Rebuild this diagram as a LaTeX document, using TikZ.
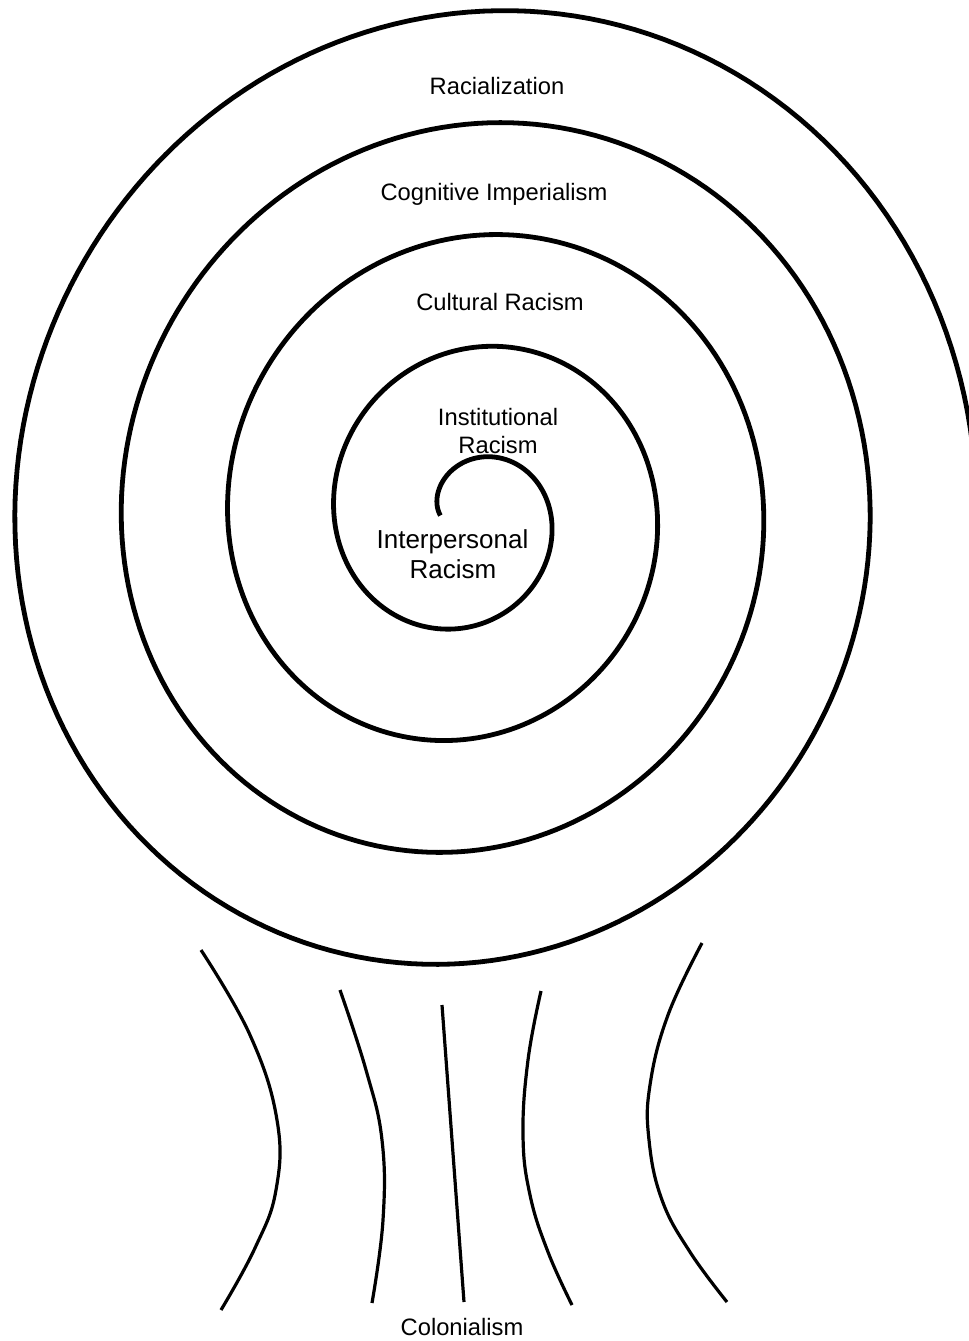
\documentclass[tikz,border=0pt]{standalone}
\usepackage{fontspec}
\setmainfont{Liberation Sans}
\begin{document}
\begin{tikzpicture}[x=0.75pt, y=-0.75pt,
  spiralline/.style={line width=3.6pt, line join=round, black},
  strand/.style={line width=2.4pt, black},
  lbl/.style={anchor=base, inner sep=0pt, font=\fontsize{17.8pt}{21pt}\selectfont},
  biglbl/.style={anchor=base, inner sep=0pt, font=\fontsize{19.5pt}{23pt}\selectfont},
  declare function={ang(\u)=90-90*\u; rx(\u)=55.3+26.6*\u; ry(\u)=55.5+28*\u;
    pr(\u)=0.02*(55.4+27.3*\u)*sin(2*(90-90*\u));}
]
\useasboundingbox (0,0) rectangle (969,1341);
\fill[white] (0,0) rectangle (969,1341);

% spiral
\draw[spiralline] plot[domain=-1:16.92, samples=900, variable=\u]
  ({469.1+(rx(\u)+pr(\u))*cos(ang(\u))}, {515.5-(ry(\u)+pr(\u))*sin(ang(\u))});

% labels
\node[lbl] (racialization) at (497,95) {Racialization};
\node[lbl] (cognitive) at (494,201) {Cognitive Imperialism};
\node[lbl] (cultural) at (500,310) {Cultural Racism};
\node[lbl] (institutionalA) at (498,425) {Institutional};
\node[lbl] (institutionalB) at (498,453) {Racism};
\node[biglbl] (interpersonalA) at (452.5,548) {Interpersonal};
\node[biglbl] (interpersonalB) at (453,578) {Racism};
\node[lbl] (colonialism) at (462,1335) {Colonialism};

% strands
\draw[strand] plot[smooth, tension=0.7] coordinates {(201,950) (250,1035) (277,1120) (276,1190) (255,1248) (221,1310)};
\draw[strand] plot[smooth, tension=0.7] coordinates {(340,990) (366,1070) (382,1140) (383,1220) (372,1303)};
\draw[strand] (442,1005) -- (464,1302);
\draw[strand] plot[smooth, tension=0.7] coordinates {(541,991) (528,1060) (523,1135) (530,1195) (548,1252) (572,1305)};
\draw[strand] plot[smooth, tension=0.7] coordinates {(702,943) (668,1015) (650,1085) (649,1140) (662,1200) (690,1252) (727,1302)};
\end{tikzpicture}
\end{document}
